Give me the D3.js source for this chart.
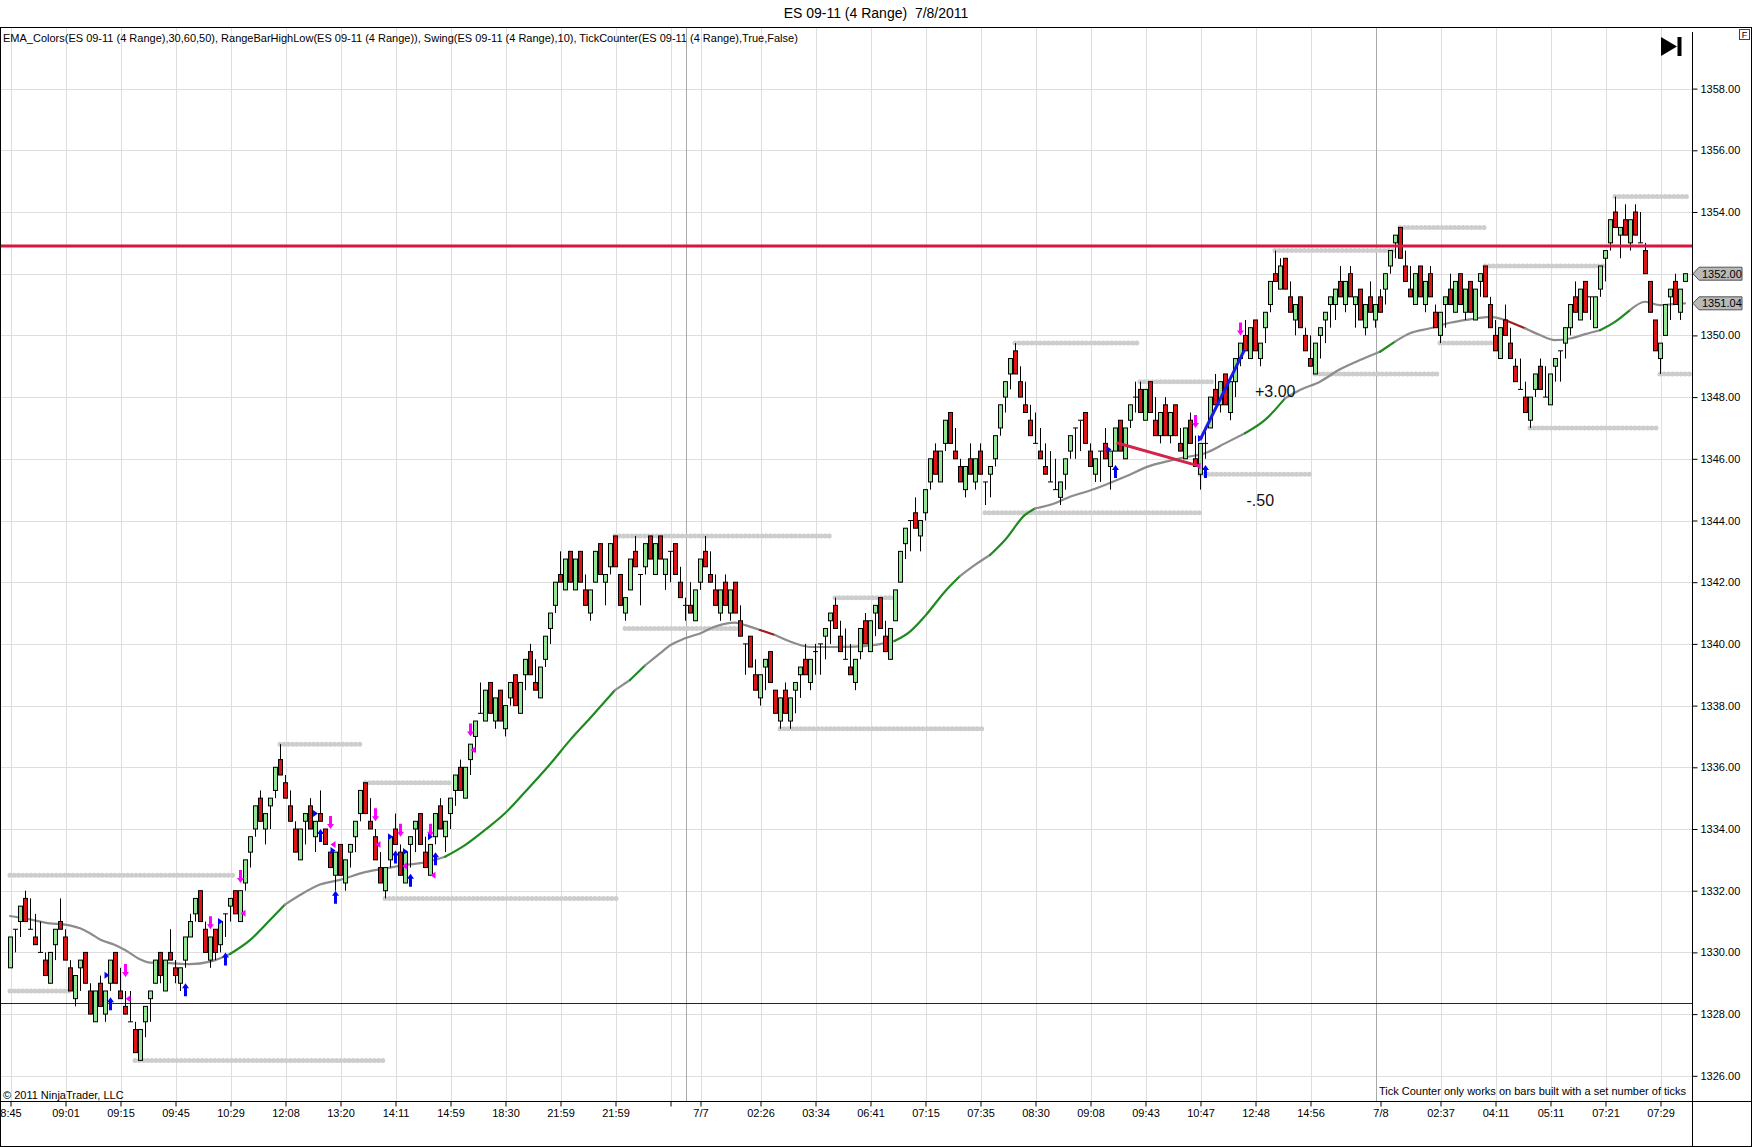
<!DOCTYPE html>
<html>
<head>
<meta charset="utf-8">
<title>ES 09-11 (4 Range) 7/8/2011</title>
<script src="https://cdn.jsdelivr.net/npm/d3@7"></script>
<style>
  html, body { margin: 0; padding: 0; background: #fff; }
  #chart { width: 1752px; height: 1147px; }
  text { font-family: "Liberation Sans", Arial, sans-serif; }
</style>
</head>
<body>
<div id="chart"></div>
<script>
// ---- bars (4-tick range bars), index 0 = first bar on screen ----
const opens = [
  1329.5, 1330.75, 1331.0, 1331.75, 1330.75, 1330.5, 1330.0, 1329.75, 1329.0, 1330.25,
  1331.0, 1330.5, 1329.5, 1328.5, 1329.5, 1330.0, 1328.75, 1327.75, 1329.0, 1328.0,
  1329.0, 1330.0, 1328.75, 1328.25, 1327.75, 1327.5, 1326.5, 1327.75, 1328.5, 1329.0,
  1330.0, 1328.75, 1330.0, 1329.5, 1329.0, 1329.75, 1330.5, 1331.25, 1332.0, 1330.75,
  1329.75, 1330.75, 1330.25, 1331.25, 1331.5, 1332.0, 1331.0, 1332.25, 1333.25, 1334.0,
  1335.0, 1334.0, 1334.75, 1335.25, 1336.25, 1335.5, 1334.75, 1334.0, 1333.0, 1334.25,
  1334.75, 1333.75, 1334.5, 1334.0, 1333.25, 1332.5, 1333.5, 1332.25, 1333.25, 1333.75,
  1334.5, 1335.5, 1334.25, 1333.75, 1332.75, 1332.0, 1333.0, 1334.0, 1333.25, 1332.25,
  1333.5, 1334.0, 1334.5, 1333.25, 1332.5, 1333.75, 1334.75, 1333.75, 1334.5, 1335.25,
  1336.0, 1335.0, 1336.25, 1337.0, 1337.75, 1337.5, 1338.75, 1337.5, 1338.5, 1337.25,
  1338.25, 1339.0, 1337.75, 1339.0, 1339.75, 1338.75, 1338.25, 1339.5, 1340.5, 1341.25,
  1342.25, 1341.75, 1343.0, 1341.75, 1343.0, 1341.75, 1341.0, 1342.0, 1343.25, 1342.0,
  1342.5, 1343.5, 1342.25, 1341.0, 1341.75, 1343.0, 1342.25, 1342.5, 1343.5, 1342.25,
  1343.5, 1342.25, 1343.0, 1343.25, 1342.0, 1341.25, 1341.25, 1340.75, 1342.0, 1343.0,
  1342.25, 1341.75, 1341.0, 1342.0, 1341.0, 1342.0, 1340.75, 1340.0, 1340.25, 1339.0,
  1338.25, 1339.25, 1339.75, 1338.5, 1337.5, 1338.5, 1337.5, 1338.5, 1339.0, 1339.5,
  1338.75, 1339.75, 1340.0, 1340.25, 1340.75, 1341.25, 1340.25, 1339.5, 1339.25, 1338.75,
  1339.75, 1340.75, 1339.75, 1341.0, 1341.5, 1340.25, 1339.5, 1340.75, 1342.0, 1343.25,
  1344.0, 1344.25, 1343.5, 1344.25, 1345.25, 1346.25, 1345.25, 1346.5, 1347.5, 1346.25,
  1345.75, 1345.0, 1346.0, 1345.25, 1346.25, 1345.25, 1345.5, 1346.0, 1347.0, 1348.0,
  1348.75, 1349.5, 1348.5, 1347.75, 1347.25, 1346.5, 1346.25, 1345.75, 1345.25, 1345.0,
  1344.75, 1345.5, 1346.25, 1347.0, 1347.25, 1347.5, 1346.25, 1345.5, 1346.25, 1346.5,
  1345.75, 1346.25, 1347.25, 1346.0, 1347.25, 1348.0, 1348.25, 1347.25, 1348.5, 1347.25,
  1346.75, 1347.75, 1346.75, 1347.75, 1346.5, 1346.0, 1347.25, 1346.0, 1345.5, 1346.5,
  1347.0, 1348.25, 1347.75, 1348.75, 1347.5, 1348.5, 1349.25, 1350.0, 1349.25, 1350.5,
  1349.25, 1350.25, 1351.0, 1352.0, 1351.5, 1352.5, 1351.25, 1350.5, 1351.25, 1350.0,
  1349.25, 1348.75, 1350.0, 1350.5, 1351.0, 1351.0, 1351.75, 1351.0, 1352.0, 1351.0,
  1351.5, 1350.25, 1351.25, 1350.5, 1351.25, 1351.5, 1352.25, 1353.0, 1353.5, 1352.25,
  1351.5, 1351.0, 1352.25, 1351.0, 1352.0, 1350.75, 1350.0, 1351.0, 1351.5, 1350.75,
  1352.0, 1350.75, 1351.75, 1350.5, 1351.75, 1352.25, 1351.0, 1350.0, 1349.25, 1350.5,
  1349.75, 1349.0, 1348.25, 1348.0, 1347.25, 1348.25, 1349.0, 1348.0, 1347.75, 1349.0,
  1349.5, 1349.75, 1350.25, 1351.25, 1350.5, 1351.75, 1351.25, 1350.25, 1351.5, 1352.5,
  1353.0, 1354.0, 1353.25, 1353.75, 1353.0, 1354.0, 1353.0, 1352.75, 1351.75, 1350.5,
  1349.25, 1350.0, 1351.25, 1351.75, 1350.75, 1351.75
];

const highs = [
  1330.5, 1330.75, 1331.5, 1332.0, 1331.75, 1331.25, 1331.0, 1330.0, 1330.0, 1330.75,
  1331.75, 1330.75, 1329.75, 1329.25, 1329.75, 1330.0, 1329.0, 1328.75, 1329.25, 1328.75,
  1329.75, 1330.0, 1329.5, 1328.75, 1328.75, 1327.75, 1327.5, 1328.25, 1328.75, 1329.75,
  1330.0, 1329.75, 1330.75, 1329.75, 1329.5, 1330.5, 1331.25, 1331.75, 1332.0, 1331.0,
  1330.5, 1330.75, 1331.0, 1331.25, 1331.75, 1332.0, 1332.0, 1333.0, 1333.75, 1334.75,
  1335.25, 1334.5, 1335.0, 1336.0, 1336.75, 1335.75, 1335.25, 1334.25, 1334.0, 1334.5,
  1335.0, 1334.25, 1335.25, 1334.0, 1333.25, 1333.25, 1333.5, 1333.0, 1333.5, 1334.25,
  1335.25, 1335.5, 1335.0, 1334.0, 1333.25, 1332.75, 1333.75, 1334.5, 1333.5, 1333.25,
  1333.75, 1334.25, 1334.5, 1333.75, 1333.5, 1334.5, 1335.0, 1334.25, 1335.0, 1335.75,
  1336.25, 1336.0, 1336.75, 1337.5, 1338.75, 1338.5, 1338.75, 1338.25, 1338.5, 1338.0,
  1338.75, 1339.0, 1338.75, 1339.5, 1340.0, 1339.5, 1339.25, 1340.25, 1341.0, 1342.0,
  1343.0, 1342.75, 1343.0, 1342.75, 1343.0, 1342.25, 1341.75, 1343.0, 1343.25, 1342.25,
  1343.25, 1343.5, 1342.25, 1341.5, 1342.75, 1343.5, 1342.25, 1343.25, 1343.5, 1343.25,
  1343.5, 1342.75, 1343.0, 1343.25, 1342.5, 1341.5, 1342.0, 1341.75, 1342.75, 1343.5,
  1343.0, 1342.25, 1341.75, 1342.25, 1341.75, 1342.0, 1341.25, 1340.0, 1340.25, 1339.5,
  1339.0, 1339.5, 1339.75, 1338.5, 1338.25, 1338.75, 1338.25, 1338.75, 1339.25, 1340.0,
  1339.5, 1340.0, 1340.0, 1340.5, 1341.0, 1341.5, 1340.75, 1340.5, 1340.0, 1339.5,
  1340.5, 1341.0, 1340.75, 1341.25, 1341.5, 1340.75, 1340.5, 1341.75, 1343.0, 1343.75,
  1344.0, 1344.75, 1344.0, 1345.0, 1346.0, 1346.5, 1346.25, 1347.25, 1347.5, 1347.0,
  1346.0, 1345.75, 1346.5, 1346.0, 1346.5, 1345.25, 1345.75, 1346.75, 1347.75, 1348.5,
  1349.25, 1349.75, 1349.0, 1348.5, 1347.75, 1347.5, 1347.0, 1346.5, 1346.25, 1346.0,
  1345.25, 1346.0, 1346.75, 1347.0, 1347.25, 1347.5, 1346.5, 1346.0, 1346.25, 1347.0,
  1346.25, 1347.0, 1347.25, 1347.0, 1347.75, 1348.5, 1348.5, 1348.25, 1348.5, 1348.0,
  1347.5, 1348.0, 1347.5, 1347.75, 1347.0, 1347.0, 1347.5, 1346.75, 1346.5, 1347.0,
  1348.0, 1348.75, 1348.5, 1348.75, 1348.5, 1349.25, 1349.75, 1350.5, 1350.25, 1350.5,
  1349.75, 1350.75, 1351.75, 1352.75, 1352.5, 1352.5, 1351.75, 1351.0, 1351.25, 1350.25,
  1350.0, 1349.75, 1350.25, 1350.75, 1351.25, 1351.5, 1352.25, 1351.75, 1352.25, 1351.25,
  1351.5, 1351.0, 1351.75, 1351.0, 1351.5, 1352.0, 1352.75, 1353.25, 1353.5, 1352.75,
  1352.25, 1352.0, 1352.25, 1351.75, 1352.25, 1351.0, 1350.75, 1351.25, 1352.0, 1351.75,
  1352.0, 1351.5, 1351.75, 1351.5, 1352.0, 1352.25, 1351.25, 1350.5, 1350.25, 1351.0,
  1350.25, 1349.25, 1349.25, 1348.5, 1348.0, 1348.75, 1349.25, 1349.0, 1348.75, 1349.25,
  1349.5, 1350.25, 1351.0, 1351.75, 1351.5, 1351.75, 1351.25, 1351.25, 1352.25, 1352.75,
  1353.75, 1354.5, 1353.5, 1354.25, 1353.75, 1354.25, 1354.0, 1353.0, 1351.75, 1350.5,
  1349.75, 1351.0, 1351.5, 1352.0, 1351.5, 1352.0
];

const lows = [
  1329.5, 1330.0, 1330.5, 1331.0, 1330.75, 1330.25, 1330.0, 1329.25, 1329.0, 1329.75,
  1330.75, 1329.75, 1328.75, 1328.25, 1328.75, 1329.0, 1328.0, 1327.75, 1328.25, 1327.75,
  1328.75, 1329.0, 1328.5, 1328.0, 1327.75, 1326.75, 1326.5, 1327.25, 1327.75, 1329.0,
  1329.0, 1328.75, 1329.75, 1329.0, 1328.75, 1329.5, 1330.5, 1331.0, 1331.0, 1330.0,
  1329.5, 1329.75, 1330.0, 1330.5, 1331.0, 1331.25, 1331.0, 1332.0, 1332.75, 1333.75,
  1334.25, 1333.5, 1334.0, 1335.0, 1335.75, 1335.0, 1334.25, 1333.25, 1333.0, 1333.5,
  1334.0, 1333.25, 1334.25, 1333.5, 1332.75, 1332.0, 1332.5, 1332.0, 1332.75, 1333.25,
  1334.25, 1334.5, 1334.0, 1333.0, 1332.25, 1331.75, 1332.75, 1333.5, 1332.5, 1332.25,
  1332.75, 1333.25, 1333.5, 1332.75, 1332.5, 1333.5, 1334.0, 1333.25, 1334.0, 1334.75,
  1335.25, 1335.0, 1335.75, 1336.5, 1337.75, 1337.5, 1337.75, 1337.25, 1337.5, 1337.0,
  1338.0, 1338.0, 1337.75, 1338.5, 1339.0, 1338.5, 1338.25, 1339.25, 1340.0, 1341.0,
  1342.0, 1341.75, 1342.0, 1341.75, 1342.0, 1341.25, 1340.75, 1342.0, 1342.25, 1341.25,
  1342.25, 1342.5, 1341.25, 1340.75, 1341.75, 1342.5, 1341.25, 1342.25, 1342.75, 1342.25,
  1342.75, 1341.75, 1342.0, 1342.25, 1341.5, 1340.75, 1341.0, 1340.75, 1341.75, 1342.5,
  1342.0, 1341.25, 1340.75, 1341.25, 1340.75, 1341.0, 1340.25, 1339.0, 1339.25, 1338.5,
  1338.0, 1338.5, 1338.75, 1337.75, 1337.25, 1337.75, 1337.25, 1337.75, 1338.25, 1339.0,
  1338.5, 1339.0, 1339.0, 1339.5, 1340.0, 1340.5, 1339.75, 1339.5, 1339.0, 1338.5,
  1339.5, 1340.0, 1339.75, 1340.25, 1340.5, 1339.75, 1339.5, 1340.75, 1342.0, 1342.75,
  1343.0, 1343.75, 1343.0, 1344.0, 1345.0, 1345.5, 1345.25, 1346.25, 1346.5, 1346.0,
  1345.25, 1344.75, 1345.5, 1345.0, 1345.5, 1344.5, 1344.75, 1345.75, 1346.75, 1347.5,
  1348.25, 1348.75, 1348.0, 1347.5, 1346.75, 1346.5, 1346.0, 1345.5, 1345.25, 1345.0,
  1344.5, 1345.0, 1346.0, 1346.0, 1346.25, 1346.5, 1345.75, 1345.25, 1345.25, 1346.0,
  1345.0, 1346.25, 1346.25, 1346.0, 1347.0, 1347.5, 1347.5, 1347.25, 1347.5, 1346.75,
  1346.5, 1346.75, 1346.5, 1346.75, 1346.25, 1346.0, 1346.5, 1345.75, 1345.0, 1346.0,
  1347.0, 1347.75, 1347.5, 1347.75, 1347.25, 1348.0, 1349.0, 1349.5, 1349.25, 1349.5,
  1349.0, 1349.75, 1350.75, 1351.75, 1351.5, 1351.5, 1350.75, 1350.0, 1350.25, 1349.5,
  1349.0, 1348.75, 1349.25, 1349.75, 1350.25, 1350.5, 1351.25, 1350.75, 1351.25, 1350.25,
  1350.5, 1350.0, 1350.75, 1350.25, 1350.75, 1351.0, 1352.0, 1352.5, 1352.5, 1351.75,
  1351.25, 1351.0, 1351.25, 1350.75, 1351.25, 1350.25, 1349.75, 1350.25, 1351.0, 1350.75,
  1351.0, 1350.5, 1350.75, 1350.5, 1351.25, 1351.25, 1350.25, 1349.5, 1349.25, 1350.0,
  1349.25, 1348.5, 1348.25, 1347.5, 1347.0, 1348.0, 1348.25, 1348.0, 1347.75, 1348.5,
  1348.5, 1349.25, 1350.0, 1350.75, 1350.5, 1350.75, 1350.5, 1350.25, 1351.25, 1351.75,
  1352.75, 1353.5, 1352.5, 1353.25, 1352.75, 1353.25, 1353.0, 1352.0, 1350.75, 1349.5,
  1348.75, 1350.0, 1350.5, 1351.0, 1350.5, 1351.75
];

const closes = [
  1330.5, 1330.75, 1331.5, 1331.0, 1330.75, 1330.25, 1330.0, 1329.25, 1330.0, 1330.75,
  1330.75, 1329.75, 1328.75, 1329.25, 1329.75, 1329.0, 1328.0, 1328.75, 1328.25, 1328.75,
  1329.75, 1329.0, 1328.5, 1328.0, 1327.75, 1326.75, 1327.5, 1328.25, 1328.75, 1329.75,
  1329.25, 1329.75, 1329.75, 1329.25, 1329.5, 1330.5, 1331.0, 1331.75, 1331.0, 1330.0,
  1330.5, 1330.0, 1331.0, 1331.25, 1331.75, 1331.25, 1332.0, 1333.0, 1333.75, 1334.75,
  1334.25, 1334.5, 1335.0, 1336.0, 1335.75, 1335.0, 1334.25, 1333.25, 1334.0, 1334.5,
  1334.0, 1334.25, 1334.25, 1333.5, 1332.75, 1333.25, 1332.5, 1333.0, 1333.5, 1334.25,
  1335.25, 1334.5, 1334.0, 1333.0, 1332.25, 1332.75, 1333.75, 1333.5, 1332.5, 1333.25,
  1333.75, 1334.25, 1333.5, 1332.75, 1333.5, 1334.5, 1334.0, 1334.25, 1335.0, 1335.75,
  1335.25, 1336.0, 1336.75, 1337.5, 1337.75, 1338.5, 1337.75, 1338.25, 1337.5, 1338.0,
  1338.75, 1338.0, 1338.75, 1339.5, 1339.0, 1338.5, 1339.25, 1340.25, 1341.0, 1342.0,
  1342.0, 1342.75, 1342.0, 1342.75, 1342.0, 1341.25, 1341.75, 1343.0, 1342.25, 1342.25,
  1343.25, 1342.5, 1341.25, 1341.5, 1342.75, 1342.5, 1342.25, 1343.25, 1342.75, 1343.25,
  1342.75, 1342.75, 1343.0, 1342.25, 1341.5, 1341.25, 1341.0, 1341.75, 1342.75, 1342.5,
  1342.0, 1341.25, 1341.75, 1341.25, 1341.75, 1341.0, 1340.25, 1340.0, 1339.25, 1338.5,
  1339.0, 1339.5, 1338.75, 1337.75, 1338.25, 1337.75, 1338.25, 1338.75, 1339.25, 1339.0,
  1339.5, 1339.75, 1340.0, 1340.5, 1341.0, 1340.5, 1339.75, 1339.5, 1339.0, 1339.5,
  1340.5, 1340.0, 1340.75, 1341.25, 1340.5, 1339.75, 1340.5, 1341.75, 1343.0, 1343.75,
  1344.0, 1343.75, 1344.0, 1345.0, 1346.0, 1345.5, 1346.25, 1347.25, 1346.5, 1346.0,
  1345.25, 1345.75, 1345.5, 1346.0, 1345.5, 1345.25, 1345.75, 1346.75, 1347.75, 1348.5,
  1349.25, 1348.75, 1348.0, 1347.5, 1346.75, 1346.5, 1346.0, 1345.5, 1345.25, 1345.0,
  1345.25, 1346.0, 1346.75, 1347.0, 1347.25, 1346.5, 1345.75, 1346.0, 1346.25, 1346.0,
  1346.25, 1347.0, 1346.25, 1347.0, 1347.75, 1348.0, 1347.5, 1348.25, 1347.5, 1346.75,
  1347.5, 1346.75, 1347.5, 1346.75, 1346.25, 1347.0, 1346.5, 1345.75, 1346.5, 1346.5,
  1348.0, 1347.75, 1348.5, 1347.75, 1348.5, 1349.25, 1349.75, 1349.5, 1350.25, 1349.5,
  1349.75, 1350.75, 1351.75, 1351.75, 1352.25, 1351.5, 1350.75, 1351.0, 1350.25, 1349.5,
  1349.0, 1349.75, 1350.25, 1350.75, 1351.25, 1351.5, 1351.25, 1351.75, 1351.25, 1351.25,
  1350.5, 1351.0, 1350.75, 1351.0, 1350.75, 1352.0, 1352.75, 1353.25, 1352.5, 1351.75,
  1351.25, 1352.0, 1351.25, 1351.75, 1351.25, 1350.25, 1350.75, 1351.25, 1351.0, 1351.75,
  1351.0, 1351.5, 1350.75, 1351.5, 1352.0, 1351.25, 1350.25, 1349.5, 1350.25, 1350.0,
  1349.25, 1348.5, 1348.25, 1347.5, 1348.0, 1348.75, 1348.25, 1348.0, 1348.75, 1349.25,
  1349.5, 1350.25, 1351.0, 1350.75, 1351.5, 1350.75, 1351.25, 1351.25, 1352.25, 1352.75,
  1353.75, 1353.5, 1353.5, 1353.25, 1353.75, 1353.25, 1353.0, 1352.0, 1350.75, 1349.5,
  1349.75, 1351.0, 1351.5, 1351.0, 1351.5, 1352.0
];

// ---- EMA_Colors line (bar index, value, colour of the following stretch) ----
const emaIdx = [0, 4, 8, 11, 14, 16, 18, 21, 23, 26, 28, 32, 36, 40, 44, 48, 52, 55, 58, 62, 66, 71, 75, 79, 83,
  87, 91, 95, 99, 103, 108, 112, 116, 121, 124, 127, 130, 132, 135, 138, 141, 145, 147, 150, 153, 157, 160,
  165, 169, 173, 177, 180, 183, 187, 190, 193, 196, 199, 203, 205, 209, 212, 216, 219, 223, 228, 232, 235,
  239, 243, 247, 251, 255, 258, 262, 266, 270, 274, 277, 280, 284, 288, 292, 296, 299, 303, 306, 309, 312,
  315, 318, 321, 324, 327, 330, 333, 335];
const emaVal = [1331.18, 1331.07, 1330.94, 1330.9, 1330.78, 1330.62, 1330.42, 1330.24, 1330.08, 1329.78, 1329.67,
  1329.65, 1329.62, 1329.7, 1329.95, 1330.4, 1331.05, 1331.55, 1331.86, 1332.2, 1332.35, 1332.6, 1332.72, 1332.83,
  1332.92, 1333.1, 1333.48, 1333.97, 1334.51, 1335.2, 1336.1, 1336.88, 1337.59, 1338.5, 1338.83, 1339.3, 1339.69,
  1339.95, 1340.18, 1340.34, 1340.56, 1340.69, 1340.61, 1340.45, 1340.29, 1340.02, 1339.9, 1339.9, 1339.91,
  1339.97, 1340.1, 1340.4, 1340.9, 1341.7, 1342.2, 1342.56, 1342.88, 1343.37, 1344.18, 1344.39, 1344.56,
  1344.77, 1344.97, 1345.15, 1345.42, 1345.77, 1345.94, 1346.05, 1346.18, 1346.5, 1346.83, 1347.26, 1347.96,
  1348.23, 1348.5, 1348.9, 1349.2, 1349.47, 1349.8, 1350.07, 1350.23, 1350.41, 1350.52, 1350.6, 1350.5,
  1350.23, 1350.01, 1349.85, 1349.9, 1350.04, 1350.17, 1350.44, 1350.82, 1351.09, 1350.98, 1351.02, 1351.04];
const emaCol = ["g", "g", "g", "g", "g", "g", "g", "g", "g", "g", "g", "g", "g", "g", "u", "u", "u", "g", "g", "g",
  "g", "g", "g", "g", "g", "u", "u", "u", "u", "u", "u", "u", "u", "g", "u", "g", "g", "g", "g", "g", "g", "g",
  "g", "d", "g", "g", "g", "g", "g", "g", "u", "u", "u", "u", "g", "g", "u", "u", "u", "g", "g", "g", "g", "g",
  "g", "g", "g", "g", "g", "g", "u", "u", "g", "g", "g", "g", "g", "u", "g", "g", "g", "g", "g", "g", "d", "g",
  "g", "g", "g", "g", "u", "u", "g", "g", "g", "g", "g"];

// ---- RangeBarHighLow dotted levels: from bar, to bar, price ----
const levelFrom = [0, 0, 25, 54, 71, 75, 121, 123, 165, 154, 201, 195, 226, 238, 253, 278, 261, 286, 295, 304, 321, 330];
const levelTo = [45, 12, 75, 70, 88, 122, 164, 146, 177, 195, 226, 238, 241, 260, 277, 295, 286, 297, 319, 330, 336, 336];
const levelPrice = [1332.5, 1328.75, 1326.5, 1336.75, 1335.5, 1331.75, 1343.5, 1340.5, 1341.5, 1337.25, 1349.75,
  1344.25, 1348.5, 1345.5, 1352.75, 1353.5, 1348.75, 1349.75, 1352.25, 1347.0, 1354.5, 1348.75];

// ---- swing markers ----
const swingHighIdx = [23, 40, 46, 64, 73, 78, 84, 92, 237, 246];
const swingHighTip = [1329.2, 1330.75, 1332.25, 1334.0, 1334.25, 1333.75, 1333.75, 1337.0, 1347.0, 1350.0];
const swingLowIdx = [20, 35, 43, 62, 65, 77, 80, 85, 221, 239];
const swingLowTip = [1328.55, 1329.0, 1330.0, 1334.0, 1332.0, 1333.3, 1332.55, 1333.25, 1345.8, 1345.8];
const blueTriIdx = [19.3, 42, 61, 64.5, 76, 79, 84, 219.7, 238];
const blueTriPrice = [1329.26, 1331.0, 1334.5, 1333.3, 1333.75, 1333.27, 1333.75, 1346.3, 1346.66];
const pinkTriIdx = [23.7, 46.7, 64.7, 73.7, 79, 84.7, 92.7, 237.7];
const pinkTriPrice = [1328.5, 1331.27, 1333.5, 1333.5, 1332.8, 1332.5, 1336.56, 1345.77];

// ---- drawn objects ----
const redLevel = 1352.9;
const blueLevel = 1328.35;
const lossLine = [[221.3, 1346.52], [237.7, 1345.77]];
const gainLine = [[238, 1346.61], [246.9, 1349.53]];
const notes = [{ i: 249, p: 1348.2, t: "+3.00" }, { i: 247.3, p: 1344.67, t: "-.50" }];

// ---- axes ----
const yTicks = [1326, 1328, 1330, 1332, 1334, 1336, 1338, 1340, 1342, 1344, 1346, 1348, 1350, 1352, 1354, 1356, 1358];
const tickIdx = [0, 11, 22, 33, 44, 55, 66, 77, 88, 99, 110, 121, 132, 138, 150, 161, 172, 183, 194, 205, 216,
  227, 238, 249, 260, 274, 286, 297, 308, 319, 330];
const tickLabels = ["8:45", "09:01", "09:15", "09:45", "10:29", "12:08", "13:20", "14:11", "14:59", "18:30", "21:59",
  "21:59", "", "7/7", "02:26", "03:34", "06:41", "07:15", "07:35", "08:30", "09:08", "09:43", "10:47", "12:48",
  "14:56", "7/8", "02:37", "04:11", "05:11", "07:21", "07:29"];
const sessionBreaks = [135.15, 273.15];

const TITLE = "ES 09-11 (4 Range)\u00a0 7/8/2011";
const LEGEND = "EMA_Colors(ES 09-11 (4 Range),30,60,50), RangeBarHighLow(ES 09-11 (4 Range)), Swing(ES 09-11 (4 Range),10), TickCounter(ES 09-11 (4 Range),True,False)";

const EMA_COLORS = { g: "#8c8c8c", u: "#1f8a1f", d: "#a31a1a" };

renderChart();

function renderChart() {
  const W = 1752, H = 1147;
  const plot = { left: 0, top: 27, right: 1692, bottom: 1101 };

  const x = d3.scaleLinear().domain([0, 335]).range([10, 1685]);
  const y = d3.scaleLinear().domain([1326, 1358]).range([1075.8, 88.6]);
  const px = i => Math.round(x(i)) + 0.5;

  const svg = d3.select("#chart").append("svg")
    .attr("width", W)
    .attr("height", H)
    .style("display", "block");

  svg.append("rect").attr("width", W).attr("height", H).attr("fill", "#fff");

  svg.append("defs").append("clipPath").attr("id", "plotclip")
    .append("rect")
    .attr("x", plot.left).attr("y", plot.top)
    .attr("width", plot.right - plot.left).attr("height", plot.bottom - plot.top);

  const g = svg.append("g").attr("clip-path", "url(#plotclip)");

  // grid
  g.append("g").selectAll("line").data(yTicks).join("line")
    .attr("x1", plot.left).attr("x2", plot.right)
    .attr("y1", d => Math.round(y(d)) + 0.5).attr("y2", d => Math.round(y(d)) + 0.5)
    .attr("stroke", "#dedede");

  g.append("g").selectAll("line").data(tickIdx.filter(d => d !== 274)).join("line")
    .attr("x1", d => px(d) + 1).attr("x2", d => px(d) + 1)
    .attr("y1", plot.top).attr("y2", plot.bottom)
    .attr("stroke", "#dedede");

  g.append("g").selectAll("line").data(sessionBreaks).join("line")
    .attr("x1", d => px(d)).attr("x2", d => px(d))
    .attr("y1", plot.top).attr("y2", plot.bottom)
    .attr("stroke", "#a9a9a9");

  // range bar high / low levels
  const levels = levelPrice.map((p, k) => ({ p, a: levelFrom[k], b: levelTo[k] }));
  g.append("g").selectAll("line").data(levels).join("line")
    .attr("x1", d => x(d.a)).attr("x2", d => x(d.b))
    .attr("y1", d => y(d.p)).attr("y2", d => y(d.p))
    .attr("stroke", "#cdcdcd")
    .attr("stroke-width", 5)
    .attr("stroke-linecap", "round")
    .attr("stroke-dasharray", "0 4.2");

  // thin blue level
  g.append("line")
    .attr("x1", plot.left).attr("x2", plot.right)
    .attr("y1", Math.round(y(blueLevel)) + 0.5).attr("y2", Math.round(y(blueLevel)) + 0.5)
    .attr("stroke", "#1414b4");

  // EMA, split into colour runs
  const emaPts = emaIdx.map((d, k) => ({ i: d, v: emaVal[k], c: emaCol[k] }));
  const runs = [];
  let cur = null;
  emaPts.forEach((p, k) => {
    if (k === emaPts.length - 1) return;
    if (!cur || cur.c !== p.c) {
      cur = { c: p.c, pts: [p] };
      runs.push(cur);
    }
    cur.pts.push(emaPts[k + 1]);
  });
  const emaLine = d3.line().x(d => x(d.i)).y(d => y(d.v)).curve(d3.curveMonotoneX);
  g.append("g").selectAll("path").data(runs).join("path")
    .attr("d", d => emaLine(d.pts))
    .attr("fill", "none")
    .attr("stroke", d => EMA_COLORS[d.c])
    .attr("stroke-width", 2.2)
    .attr("stroke-linecap", "round");

  // candles
  const bars = d3.range(opens.length).map(i => ({ i, o: opens[i], h: highs[i], l: lows[i], c: closes[i] }));
  const cg = g.append("g");

  cg.selectAll(".wick").data(bars).join("line")
    .attr("class", "wick")
    .attr("x1", d => px(d.i)).attr("x2", d => px(d.i))
    .attr("y1", d => y(d.h)).attr("y2", d => y(d.l))
    .attr("stroke", "#000");

  cg.selectAll(".body").data(bars.filter(d => d.o !== d.c)).join("rect")
    .attr("class", "body")
    .attr("x", d => px(d.i) - 2)
    .attr("width", 4)
    .attr("y", d => y(Math.max(d.o, d.c)))
    .attr("height", d => y(Math.min(d.o, d.c)) - y(Math.max(d.o, d.c)))
    .attr("fill", d => d.c > d.o ? "#92e592" : "#dc1414")
    .attr("stroke", "#000")
    .attr("stroke-width", 1);

  cg.selectAll(".doji").data(bars.filter(d => d.o === d.c)).join("line")
    .attr("class", "doji")
    .attr("x1", d => px(d.i) - 2.5).attr("x2", d => px(d.i) + 2.5)
    .attr("y1", d => y(d.o)).attr("y2", d => y(d.o))
    .attr("stroke", "#000");

  // swing arrows
  const mg = g.append("g");
  mg.selectAll(".sh").data(swingHighIdx.map((d, k) => ({ i: d, p: swingHighTip[k] }))).join("path")
    .attr("class", "sh")
    .attr("d", d => arrowPath(px(d.i), y(d.p), 1))
    .attr("fill", "#ff00ff");
  mg.selectAll(".sl").data(swingLowIdx.map((d, k) => ({ i: d, p: swingLowTip[k] }))).join("path")
    .attr("class", "sl")
    .attr("d", d => arrowPath(px(d.i), y(d.p), -1))
    .attr("fill", "#0000ff");
  mg.selectAll(".bt").data(blueTriIdx.map((d, k) => ({ i: d, p: blueTriPrice[k] }))).join("path")
    .attr("class", "bt")
    .attr("d", d => triPath(x(d.i), y(d.p), 1))
    .attr("fill", "#0000ff");
  mg.selectAll(".pt").data(pinkTriIdx.map((d, k) => ({ i: d, p: pinkTriPrice[k] }))).join("path")
    .attr("class", "pt")
    .attr("d", d => triPath(x(d.i), y(d.p), -1))
    .attr("fill", "#ff00ff");

  // drawn trade lines and notes
  g.append("line")
    .attr("x1", x(lossLine[0][0])).attr("y1", y(lossLine[0][1]))
    .attr("x2", x(lossLine[1][0])).attr("y2", y(lossLine[1][1]))
    .attr("stroke", "#d2234a").attr("stroke-width", 3);
  g.append("line")
    .attr("x1", x(gainLine[0][0])).attr("y1", y(gainLine[0][1]))
    .attr("x2", x(gainLine[1][0])).attr("y2", y(gainLine[1][1]))
    .attr("stroke", "#1a1ae6").attr("stroke-width", 3);

  g.append("g").selectAll("text").data(notes).join("text")
    .attr("x", d => x(d.i))
    .attr("y", d => y(d.p))
    .attr("dy", "0.36em")
    .attr("font-size", "16px")
    .attr("fill", "#111")
    .text(d => d.t);

  // red horizontal level on top
  g.append("line")
    .attr("x1", plot.left).attr("x2", plot.right)
    .attr("y1", y(redLevel)).attr("y2", y(redLevel))
    .attr("stroke", "#d8163f").attr("stroke-width", 3);

  // frame
  svg.append("line").attr("x1", 0.5).attr("x2", 0.5).attr("y1", plot.top).attr("y2", H).attr("stroke", "#000");
  svg.append("line").attr("x1", W - 0.5).attr("x2", W - 0.5).attr("y1", plot.top).attr("y2", H).attr("stroke", "#000");
  svg.append("line").attr("x1", 0).attr("x2", W).attr("y1", H - 0.5).attr("y2", H - 0.5).attr("stroke", "#000");
  svg.append("line").attr("x1", 0).attr("x2", W).attr("y1", plot.top + 0.5).attr("y2", plot.top + 0.5).attr("stroke", "#000");
  svg.append("line").attr("x1", 0).attr("x2", W).attr("y1", plot.bottom + 0.5).attr("y2", plot.bottom + 0.5).attr("stroke", "#000");
  svg.append("line").attr("x1", plot.right + 0.5).attr("x2", plot.right + 0.5).attr("y1", plot.top + 5).attr("y2", H).attr("stroke", "#000");

  // price axis
  const ya = svg.append("g")
    .attr("transform", `translate(${plot.right + 0.5},0)`)
    .call(d3.axisRight(y).tickValues(yTicks).tickFormat(d3.format(".2f")).tickSize(5).tickPadding(3));
  ya.select(".domain").remove();
  ya.selectAll("text").attr("font-size", "11px").attr("font-family", "\"Liberation Sans\", Arial, sans-serif").attr("fill", "#000");
  ya.selectAll("line").attr("stroke", "#000");

  // time axis
  const xa = svg.append("g")
    .attr("transform", `translate(0.5,${plot.bottom + 0.5})`)
    .call(d3.axisBottom(x).tickValues(tickIdx).tickFormat((d, k) => tickLabels[k]).tickSize(5).tickPadding(3));
  xa.select(".domain").remove();
  xa.selectAll("text").attr("font-size", "11px").attr("font-family", "\"Liberation Sans\", Arial, sans-serif").attr("fill", "#000");
  xa.selectAll("line").attr("stroke", "#000");

  // price markers: last close and last EMA value
  const lastClose = closes[closes.length - 1];
  const lastEma = emaVal[emaVal.length - 1];
  const marks = [lastClose, lastEma];
  const mk = svg.append("g").selectAll("g").data(marks).join("g")
    .attr("transform", d => `translate(${plot.right + 1},${y(d)})`);
  mk.append("path")
    .attr("d", "M0,0 L6,-6.5 L49,-6.5 L49,6.5 L6,6.5 Z")
    .attr("fill", "#b9b9b9")
    .attr("stroke", "#555");
  mk.append("text")
    .attr("x", 9).attr("dy", "0.36em")
    .attr("font-size", "11px")
    .attr("fill", "#000")
    .text(d => d.toFixed(2));

  // texts
  svg.append("text")
    .attr("x", W / 2).attr("y", 18)
    .attr("text-anchor", "middle")
    .attr("font-size", "14px")
    .attr("fill", "#000")
    .text(TITLE);

  svg.append("text")
    .attr("x", 3).attr("y", 42)
    .attr("font-size", "11px")
    .attr("fill", "#000")
    .text(LEGEND);

  svg.append("text")
    .attr("x", 3).attr("y", 1099)
    .attr("font-size", "11px")
    .attr("fill", "#000")
    .text("\u00a9 2011 NinjaTrader, LLC");

  svg.append("text")
    .attr("x", plot.right - 6).attr("y", 1095)
    .attr("text-anchor", "end")
    .attr("font-size", "11px")
    .attr("fill", "#000")
    .text("Tick Counter only works on bars built with a set number of ticks");

  // "go to last bar" icon and the small F box
  svg.append("path")
    .attr("d", "M1661,37 L1677,46.5 L1661,56 Z M1677.5,37 L1681.5,37 L1681.5,56 L1677.5,56 Z")
    .attr("fill", "#000");
  svg.append("rect")
    .attr("x", 1739.5).attr("y", 29.5).attr("width", 10).attr("height", 10)
    .attr("fill", "#fff").attr("stroke", "#444");
  svg.append("text")
    .attr("x", 1744.5).attr("y", 37.5)
    .attr("text-anchor", "middle")
    .attr("font-size", "9px")
    .attr("fill", "#000")
    .text("F");
}

function arrowPath(cx, tipY, dir) {
  // dir 1: pointing down (tip at bottom), -1: pointing up (tip at top)
  const s = -dir;
  const hb = tipY + s * 5;
  const end = tipY + s * 13;
  return `M${cx},${tipY} L${cx - 3.5},${hb} L${cx - 1.5},${hb} L${cx - 1.5},${end} ` +
    `L${cx + 1.5},${end} L${cx + 1.5},${hb} L${cx + 3.5},${hb} Z`;
}

function triPath(cx, cy, dir) {
  return `M${cx - 2 * dir},${cy - 3.5} L${cx + 3 * dir},${cy} L${cx - 2 * dir},${cy + 3.5} Z`;
}
</script>
</body>
</html>
